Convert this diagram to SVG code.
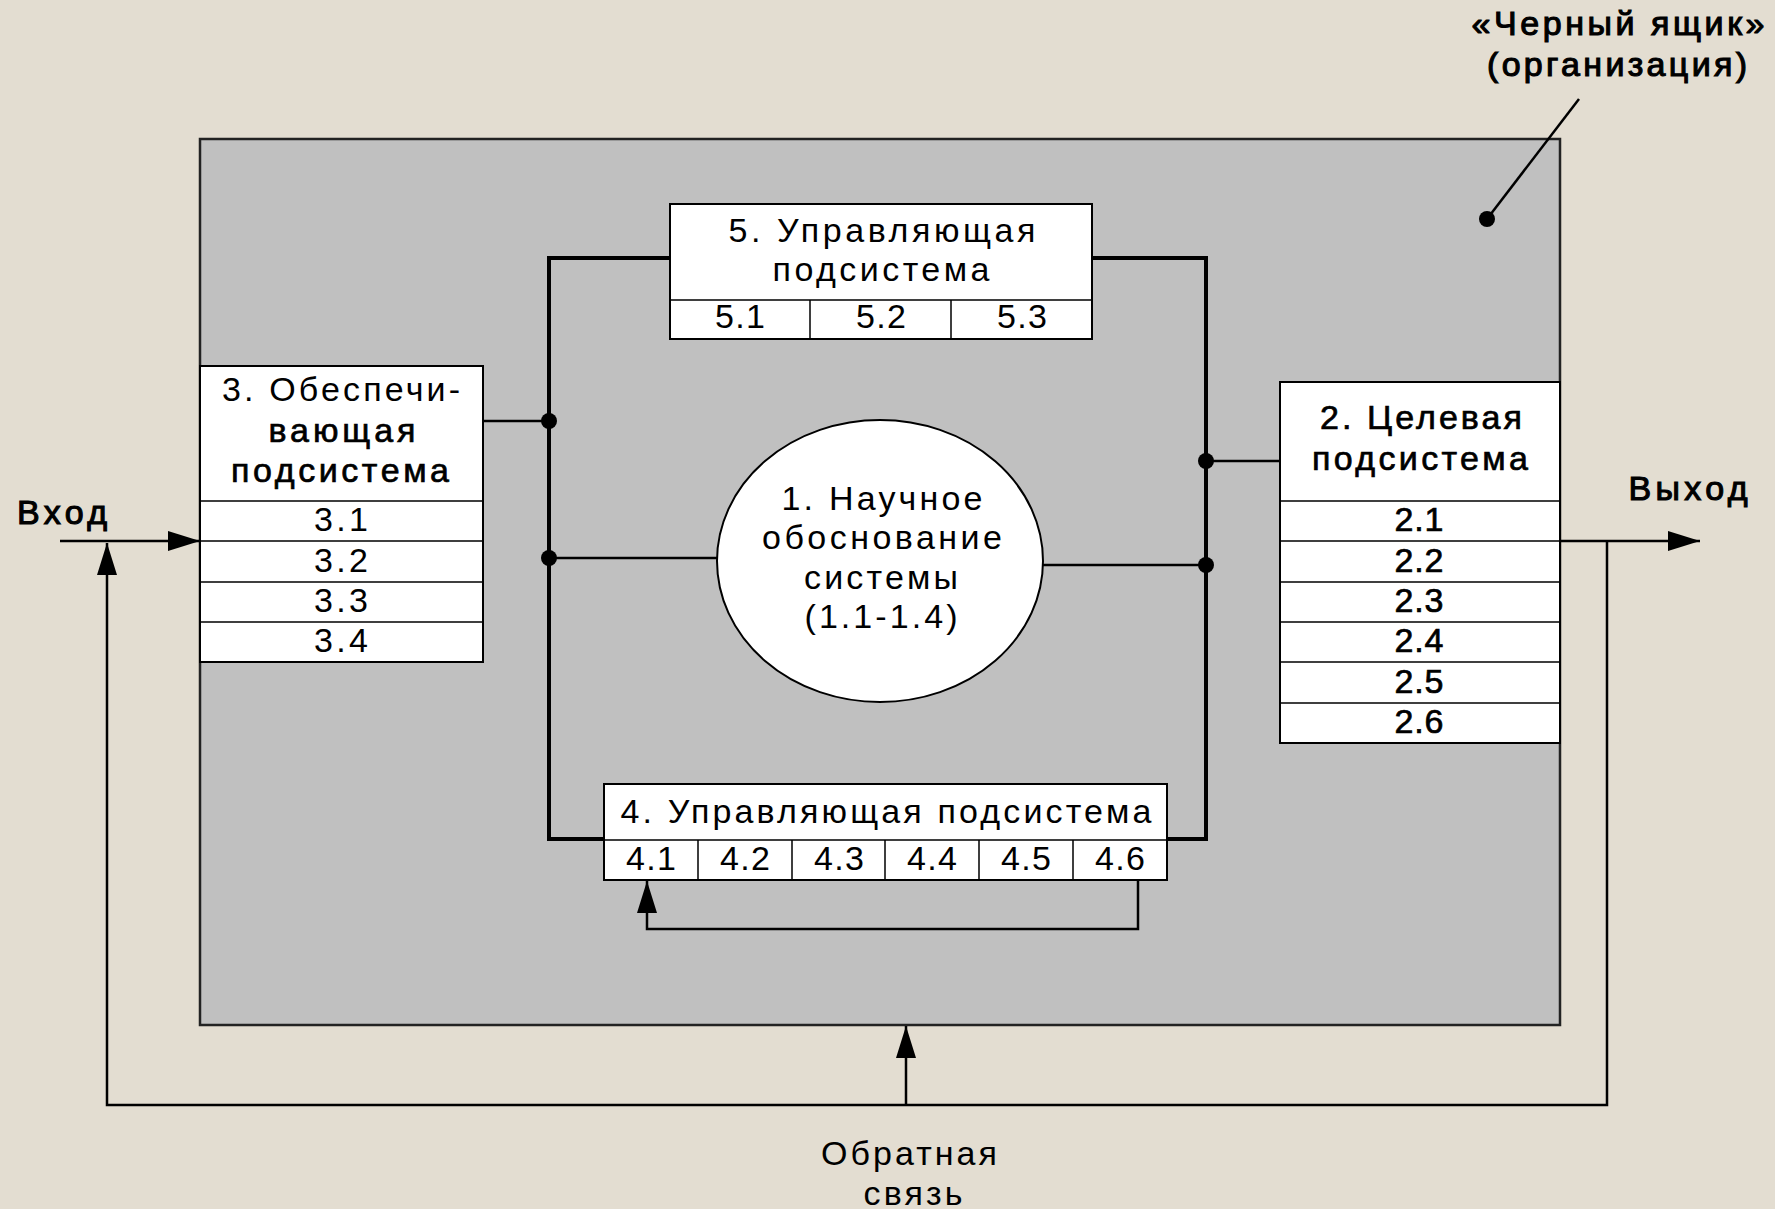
<svg xmlns="http://www.w3.org/2000/svg" width="1775" height="1209" viewBox="0 0 1775 1209">
  <defs>
    <style>
      text { font-family: "Liberation Sans", Arial, sans-serif; font-size: 34px; fill: #000; text-anchor: middle; }
      .b { stroke: #000; stroke-width: 0.7; }
      .bb { stroke: #000; stroke-width: 1.1; }
      .box { fill: #fff; stroke: #000; stroke-width: 2; }
      .sep { stroke: #000; stroke-width: 1.5; fill: none; }
      .bus { stroke: #000; stroke-width: 4; fill: none; stroke-linejoin: miter; }
      .link { stroke: #000; stroke-width: 2.5; fill: none; }
      .flow { stroke: #000; stroke-width: 2.5; fill: none; }
      .dot { fill: #000; }
    </style>
    <marker id="arrow" markerUnits="userSpaceOnUse" viewBox="0 0 32 20" refX="32" refY="10" markerWidth="32" markerHeight="20" orient="auto">
      <path d="M0,0 L32,10 L0,20 Z" fill="#000"/>
    </marker>
  </defs>

  <!-- page background -->
  <rect x="0" y="0" width="1775" height="1209" fill="#e3ddd1"/>

  <!-- organisation as a black box -->
  <g id="black-box">
    <rect x="200" y="139" width="1360" height="886" fill="#c0c0c0" stroke="#222" stroke-width="2.5"/>
  </g>

  <!-- connectors -->
  <g id="connectors">
    <!-- left and right buses -->
    <path class="bus" d="M670,258 H549 V839 H604"/>
    <path class="bus" d="M1092,258 H1206 V839 H1167"/>
    <!-- taps to the buses -->
    <path class="link" d="M483,421 H549"/>
    <path class="link" d="M549,558 H717"/>
    <path class="link" d="M1043,565 H1206"/>
    <path class="link" d="M1206,461 H1280"/>
    <circle class="dot" cx="549" cy="421" r="8"/>
    <circle class="dot" cx="549" cy="558" r="8"/>
    <circle class="dot" cx="1206" cy="461" r="8"/>
    <circle class="dot" cx="1206" cy="565" r="8"/>
    <!-- input and output -->
    <line class="flow" x1="60" y1="541" x2="200" y2="541" marker-end="url(#arrow)"/>
    <line class="flow" x1="1560" y1="541" x2="1700" y2="541" marker-end="url(#arrow)"/>
    <!-- outer feedback loop -->
    <path class="flow" d="M1607,541 V1105 H107 V543" marker-end="url(#arrow)"/>
    <line class="flow" x1="906" y1="1105" x2="906" y2="1026" marker-end="url(#arrow)"/>
    <!-- internal loop 4.6 -> 4.1 -->
    <path class="flow" d="M1138,880 V929 H647 V881" marker-end="url(#arrow)"/>
    <!-- leader for the black-box caption -->
    <line x1="1579" y1="99" x2="1487" y2="219" stroke="#000" stroke-width="2.5"/>
    <circle class="dot" cx="1487" cy="219" r="8"/>
  </g>

  <!-- 3. supporting subsystem -->
  <g id="node-3">
    <rect class="box" x="200" y="366" width="283" height="296"/>
    <path class="sep" d="M200,501 H483 M200,541 H483 M200,582 H483 M200,622 H483"/>
    <text x="341" y="401" textLength="238">3. Обеспечи-</text>
    <text class="b" x="342" y="442" textLength="147">вающая</text>
    <text class="b" x="340" y="482" textLength="218">подсистема</text>
    <text x="341" y="531" textLength="54">3.1</text>
    <text x="341" y="572" textLength="54">3.2</text>
    <text x="341" y="612" textLength="54">3.3</text>
    <text x="341" y="652" textLength="54">3.4</text>
  </g>

  <!-- 5. managing subsystem (top) -->
  <g id="node-5">
    <rect class="box" x="670" y="204" width="422" height="135"/>
    <path class="sep" d="M670,300 H1092 M810,300 V339 M951,300 V339"/>
    <text x="882" y="242" textLength="307">5. Управляющая</text>
    <text x="881" y="281" textLength="217">подсистема</text>
    <text x="740" y="328" textLength="50">5.1</text>
    <text x="881" y="328" textLength="50">5.2</text>
    <text x="1022" y="328" textLength="50">5.3</text>
  </g>

  <!-- 1. scientific grounding -->
  <g id="node-1">
    <ellipse cx="880" cy="561" rx="163" ry="141" fill="#fff" stroke="#000" stroke-width="2"/>
    <text x="882" y="510" textLength="201">1. Научное</text>
    <text x="882" y="549" textLength="240">обоснование</text>
    <text x="881" y="589" textLength="154">системы</text>
    <text x="881" y="628" textLength="153">(1.1-1.4)</text>
  </g>

  <!-- 2. target subsystem -->
  <g id="node-2">
    <rect class="box" x="1280" y="382" width="280" height="361"/>
    <path class="sep" d="M1280,501 H1560 M1280,541 H1560 M1280,582 H1560 M1280,622 H1560 M1280,662 H1560 M1280,703 H1560"/>
    <text class="b" x="1421" y="429" textLength="202">2. Целевая</text>
    <text class="b" x="1420" y="470" textLength="216">подсистема</text>
    <text class="b" x="1419" y="531" textLength="49">2.1</text>
    <text class="b" x="1419" y="572" textLength="49">2.2</text>
    <text class="b" x="1419" y="612" textLength="49">2.3</text>
    <text class="b" x="1419" y="652" textLength="49">2.4</text>
    <text class="b" x="1419" y="693" textLength="49">2.5</text>
    <text class="b" x="1419" y="733" textLength="49">2.6</text>
  </g>

  <!-- 4. managing subsystem (bottom) -->
  <g id="node-4">
    <rect class="box" x="604" y="784" width="563" height="96"/>
    <path class="sep" d="M604,840 H1167 M698,840 V880 M792,840 V880 M885,840 V880 M979,840 V880 M1073,840 V880"/>
    <text x="886" y="823" textLength="531">4. Управляющая подсистема</text>
    <text x="651" y="870" textLength="50">4.1</text>
    <text x="745" y="870" textLength="50">4.2</text>
    <text x="839" y="870" textLength="50">4.3</text>
    <text x="932" y="870" textLength="50">4.4</text>
    <text x="1026" y="870" textLength="50">4.5</text>
    <text x="1120" y="870" textLength="50">4.6</text>
  </g>

  <!-- free labels -->
  <g id="labels">
    <text class="bb" x="1618" y="35" textLength="293">«Черный ящик»</text>
    <text class="bb" x="1617" y="76" textLength="260">(организация)</text>
    <text class="bb" x="62" y="524" textLength="90">Вход</text>
    <text class="bb" x="1688" y="500" textLength="119">Выход</text>
    <text x="909" y="1165" textLength="176">Обратная</text>
    <text x="913" y="1205" textLength="99">связь</text>
  </g>
</svg>
